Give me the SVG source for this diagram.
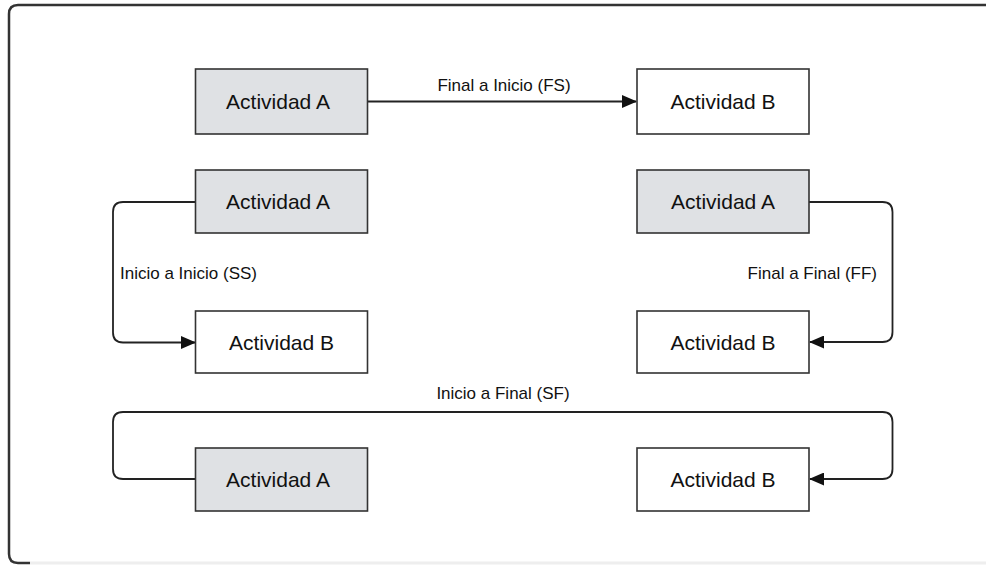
<svg xmlns="http://www.w3.org/2000/svg" width="986" height="567" viewBox="0 0 986 567">
<defs>
<style>
.box{stroke:#333;stroke-width:1.6}
.a{fill:#dfe1e4}
.b{fill:#fff}
.t{font-family:"Liberation Sans",Arial,sans-serif;font-size:21px;fill:#111;text-anchor:middle}
.l{font-family:"Liberation Sans",Arial,sans-serif;font-size:17px;fill:#111}
.c{fill:none;stroke:#222;stroke-width:1.8}
</style>
<marker id="arr" markerWidth="15" markerHeight="13" refX="14" refY="6.5" orient="auto" markerUnits="userSpaceOnUse">
<path d="M0,0 L15,6.5 L0,13 Z" fill="#111"/>
</marker>
</defs>
<rect width="986" height="567" fill="#fff"/>
<g id="frame">
<path d="M986,5 H18 Q9,5 9,14 V554 Q9,563 18,563 H30" fill="none" stroke="#333" stroke-width="2.5"/>
<line x1="30" y1="563" x2="986" y2="563" stroke="#eee" stroke-width="3"/>
</g>
<g id="connectors">
<path class="c" d="M367,101.5 H636" marker-end="url(#arr)"/>
<path class="c" d="M195.5,202 H123 Q113,202 113,212 V332.5 Q113,342.5 123,342.5 H195" marker-end="url(#arr)"/>
<path class="c" d="M809,202 H882.5 Q892.5,202 892.5,212 V332 Q892.5,342 882.5,342 H810" marker-end="url(#arr)"/>
<path class="c" d="M195,479 H123 Q113,479 113,469 V422 Q113,412 123,412 H882.5 Q892.5,412 892.5,422 V469 Q892.5,479 882.5,479 H810" marker-end="url(#arr)"/>
<text class="l" x="504" y="91" text-anchor="middle">Final a Inicio (FS)</text>
<text class="l" x="120" y="279">Inicio a Inicio (SS)</text>
<text class="l" x="877" y="279" text-anchor="end">Final a Final (FF)</text>
<text class="l" x="503" y="399" text-anchor="middle">Inicio a Final (SF)</text>
</g>
<g id="fs-a"><rect class="box a" x="195.5" y="69" width="172" height="65"/><text class="t" x="278" y="108.5">Actividad A</text></g>
<g id="fs-b"><rect class="box b" x="637" y="69" width="172" height="65"/><text class="t" x="723" y="108.5">Actividad B</text></g>
<g id="ss-a"><rect class="box a" x="195.5" y="170" width="172" height="63"/><text class="t" x="278" y="208.5">Actividad A</text></g>
<g id="ss-b"><rect class="box b" x="195.5" y="311" width="172" height="62"/><text class="t" x="281.5" y="349.5">Actividad B</text></g>
<g id="ff-a"><rect class="box a" x="637" y="170" width="172" height="63"/><text class="t" x="723" y="208.5">Actividad A</text></g>
<g id="ff-b"><rect class="box b" x="637" y="311" width="172" height="62"/><text class="t" x="723" y="349.5">Actividad B</text></g>
<g id="sf-a"><rect class="box a" x="195.5" y="448" width="172" height="63"/><text class="t" x="278" y="486.5">Actividad A</text></g>
<g id="sf-b"><rect class="box b" x="637" y="448" width="172" height="63"/><text class="t" x="723" y="486.5">Actividad B</text></g>
</svg>
